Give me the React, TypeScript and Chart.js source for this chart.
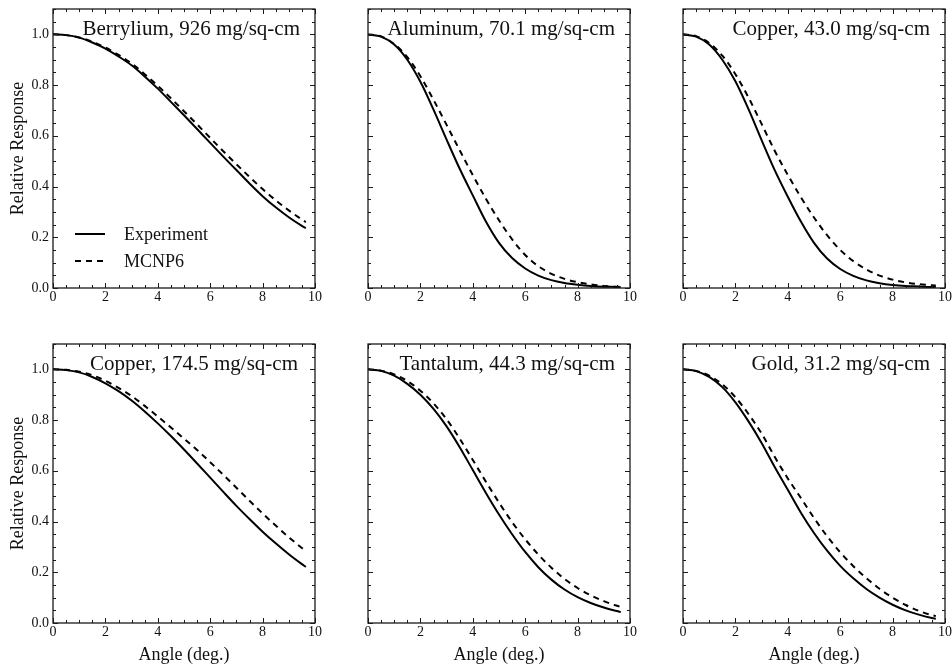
import React, { useEffect, useRef } from 'react';
import { Chart, registerables } from 'chart.js';

Chart.register(...registerables);

const FONT = '"Liberation Serif", "DejaVu Serif", serif';

// Angle (deg.) sample points
const ANGLES = [0, 0.5, 1, 1.5, 2, 2.5, 3, 3.5, 4, 4.5, 5, 5.5, 6, 6.5, 7, 7.5, 8, 8.5, 9, 9.5, 9.65];
const X_TICKS = [0, 2, 4, 6, 8, 10];
const Y_TICKS = [0, 0.2, 0.4, 0.6, 0.8, 1.0];
const SERIES_NAMES = ['Experiment', 'MCNP6'];
const PANEL_TITLES = [
  'Berrylium, 926 mg/sq-cm',
  'Aluminum, 70.1 mg/sq-cm',
  'Copper, 43.0 mg/sq-cm',
  'Copper, 174.5 mg/sq-cm',
  'Tantalum, 44.3 mg/sq-cm',
  'Gold, 31.2 mg/sq-cm',
];

const berylliumExp = [1.0, 0.997, 0.987, 0.968, 0.944, 0.913, 0.878, 0.834, 0.786, 0.734, 0.681, 0.627, 0.572, 0.518, 0.465, 0.412, 0.362, 0.318, 0.279, 0.245, 0.236];
const berylliumMcnp = [1.0, 0.997, 0.988, 0.971, 0.948, 0.919, 0.885, 0.843, 0.797, 0.748, 0.697, 0.645, 0.592, 0.539, 0.488, 0.438, 0.39, 0.346, 0.306, 0.27, 0.26];

const aluminumExp = [1.0, 0.991, 0.96, 0.9, 0.813, 0.703, 0.585, 0.47, 0.365, 0.262, 0.178, 0.118, 0.077, 0.049, 0.031, 0.02, 0.013, 0.008, 0.005, 0.004, 0.003];
const aluminumMcnp = [1.0, 0.992, 0.962, 0.91, 0.835, 0.742, 0.643, 0.543, 0.445, 0.352, 0.267, 0.192, 0.13, 0.086, 0.056, 0.036, 0.023, 0.014, 0.008, 0.005, 0.005];

const copper43Exp = [1.0, 0.991, 0.96, 0.9, 0.815, 0.705, 0.583, 0.465, 0.36, 0.262, 0.178, 0.116, 0.075, 0.048, 0.03, 0.019, 0.012, 0.008, 0.006, 0.004, 0.004];
const copper43Mcnp = [1.0, 0.993, 0.966, 0.916, 0.843, 0.751, 0.647, 0.541, 0.446, 0.358, 0.278, 0.208, 0.15, 0.106, 0.073, 0.049, 0.033, 0.022, 0.015, 0.011, 0.01];

const copper174Exp = [1.0, 0.997, 0.988, 0.97, 0.945, 0.914, 0.877, 0.834, 0.787, 0.737, 0.684, 0.629, 0.573, 0.517, 0.462, 0.41, 0.36, 0.314, 0.271, 0.232, 0.221];
const copper174Mcnp = [1.0, 0.998, 0.991, 0.977, 0.955, 0.927, 0.895, 0.856, 0.814, 0.771, 0.727, 0.682, 0.634, 0.584, 0.533, 0.482, 0.432, 0.384, 0.338, 0.296, 0.284];

const tantalumExp = [1.0, 0.994, 0.975, 0.943, 0.9, 0.844, 0.775, 0.693, 0.603, 0.513, 0.428, 0.35, 0.28, 0.22, 0.171, 0.132, 0.102, 0.079, 0.061, 0.047, 0.043];
const tantalumMcnp = [1.0, 0.995, 0.98, 0.954, 0.916, 0.866, 0.803, 0.727, 0.643, 0.557, 0.475, 0.398, 0.33, 0.27, 0.218, 0.174, 0.138, 0.109, 0.086, 0.068, 0.063];

const goldExp = [1.0, 0.993, 0.97, 0.93, 0.87, 0.795, 0.71, 0.615, 0.525, 0.435, 0.355, 0.285, 0.225, 0.176, 0.134, 0.1, 0.072, 0.05, 0.033, 0.02, 0.017];
const goldMcnp = [1.0, 0.994, 0.975, 0.941, 0.89, 0.824, 0.747, 0.655, 0.57, 0.493, 0.414, 0.342, 0.279, 0.224, 0.177, 0.135, 0.1, 0.071, 0.048, 0.031, 0.027];

const PANEL_SERIES = [
  [berylliumExp, berylliumMcnp],
  [aluminumExp, aluminumMcnp],
  [copper43Exp, copper43Mcnp],
  [copper174Exp, copper174Mcnp],
  [tantalumExp, tantalumMcnp],
  [goldExp, goldMcnp],
];

// layout
const PLOT_LEFTS = [53, 368, 683];
const PLOT_TOPS = [9, 344];
const PLOT_W = 262;
const PLOT_H = 279;
const Y_AXIS_W = 53;
const PAD_TOP = 20;
const PAD_RIGHT = 14;
const CANVAS_BOTTOMS = [318, 666];

const framePlugin = {
  id: 'frame',
  afterDraw(chart: any, _args: any, opts: any) {
    const { ctx, chartArea: a, scales } = chart;
    const xs = scales.x;
    const ys = scales.y;
    ctx.save();
    ctx.strokeStyle = '#1a1a1a';
    ctx.lineWidth = 1.3;
    ctx.setLineDash([]);
    ctx.strokeRect(a.left, a.top, a.right - a.left, a.bottom - a.top);
    ctx.lineWidth = 1;
    ctx.beginPath();
    for (let i = 0; i <= 20; i++) {
      const v = i * 0.5;
      const px = Math.round(xs.getPixelForValue(v)) + 0.5;
      const len = i % 4 === 0 ? 5 : 3;
      ctx.moveTo(px, a.bottom);
      ctx.lineTo(px, a.bottom - len);
      ctx.moveTo(px, a.top);
      ctx.lineTo(px, a.top + len);
    }
    for (let i = 0; i <= 22; i++) {
      const v = i * 0.05;
      const py = Math.round(ys.getPixelForValue(v)) + 0.5;
      const len = i % 4 === 0 ? 5 : 3;
      ctx.moveTo(a.left, py);
      ctx.lineTo(a.left + len, py);
      ctx.moveTo(a.right, py);
      ctx.lineTo(a.right - len, py);
    }
    ctx.stroke();

    // panel title
    ctx.fillStyle = '#111';
    ctx.font = `21px ${FONT}`;
    ctx.textAlign = 'right';
    ctx.textBaseline = 'alphabetic';
    ctx.fillText(opts.title, a.right - opts.titleInset, a.top + 26);

    // legend
    if (opts.legend) {
      chart.data.datasets.forEach((ds: any, i: number) => {
        const y = a.top + 225 + i * 27;
        ctx.strokeStyle = ds.borderColor;
        ctx.lineWidth = ds.borderWidth;
        ctx.setLineDash(ds.borderDash || []);
        ctx.beginPath();
        ctx.moveTo(a.left + 22, y);
        ctx.lineTo(a.left + 52, y);
        ctx.stroke();
        ctx.setLineDash([]);
        ctx.font = `18px ${FONT}`;
        ctx.textAlign = 'left';
        ctx.textBaseline = 'middle';
        ctx.fillStyle = '#111';
        ctx.fillText(ds.label, a.left + 71, y + 1);
      });
    }
    ctx.restore();
  },
};

function Panel({ index }: { index: number }) {
  const ref = useRef<HTMLCanvasElement>(null);
  const col = index % 3;
  const row = Math.floor(index / 3);
  const width = Y_AXIS_W + PLOT_W + PAD_RIGHT;
  const left = PLOT_LEFTS[col] - Y_AXIS_W;
  const top = PLOT_TOPS[row] - PAD_TOP;
  const height = CANVAS_BOTTOMS[row] - top;

  useEffect(() => {
    if (!ref.current) return;
    const [exp, mcnp] = PANEL_SERIES[index];
    const xH = height - PAD_TOP - PLOT_H;
    const chart = new Chart(ref.current, {
      type: 'line',
      data: {
        datasets: [
          {
            label: SERIES_NAMES[0],
            data: ANGLES.map((x, i) => ({ x, y: exp[i] })),
            borderColor: '#000',
            borderWidth: 2,
            pointRadius: 0,
            cubicInterpolationMode: 'monotone',
            fill: false,
          },
          {
            label: SERIES_NAMES[1],
            data: ANGLES.map((x, i) => ({ x, y: mcnp[i] })),
            borderColor: '#000',
            borderWidth: 2,
            borderDash: [6, 5],
            pointRadius: 0,
            cubicInterpolationMode: 'monotone',
            fill: false,
          },
        ],
      },
      options: {
        responsive: false,
        animation: false,
        events: [],
        layout: { padding: { left: 0, top: PAD_TOP, right: PAD_RIGHT, bottom: 0 } },
        plugins: {
          legend: { display: false },
          tooltip: { enabled: false },
          frame: { title: PANEL_TITLES[index], legend: index === 0, titleInset: index === 3 ? 17 : 15 },
        } as any,
        scales: {
          x: {
            type: 'linear',
            min: 0,
            max: 10,
            grid: { display: false, drawTicks: false },
            border: { display: false },
            afterBuildTicks: (s: any) => {
              s.ticks = X_TICKS.map((v) => ({ value: v }));
            },
            ticks: {
              padding: 1,
              color: '#111',
              font: { size: 14, family: FONT },
              maxRotation: 0,
              autoSkip: false,
              callback: (v: any) => String(v),
            },
            title: {
              display: row === 1,
              text: 'Angle (deg.)',
              color: '#111',
              font: { size: 18, family: FONT },
              padding: { top: 0, bottom: 0 },
            },
            afterFit: (s: any) => {
              s.height = xH;
            },
          },
          y: {
            type: 'linear',
            min: 0,
            max: 1.1,
            grid: { display: false, drawTicks: false },
            border: { display: false },
            afterBuildTicks: (s: any) => {
              s.ticks = Y_TICKS.map((v) => ({ value: v }));
            },
            ticks: {
              display: col === 0,
              padding: 4,
              color: '#111',
              font: { size: 14, family: FONT },
              callback: (v: any) => Number(v).toFixed(1),
            },
            title: {
              display: col === 0,
              text: 'Relative Response',
              color: '#111',
              font: { size: 18, family: FONT },
              padding: { top: 7, bottom: 0 },
            },
            afterFit: (s: any) => {
              s.width = Y_AXIS_W;
            },
          },
        },
      } as any,
      plugins: [framePlugin],
    });
    return () => chart.destroy();
  }, [index, height]);

  return (
    <canvas
      ref={ref}
      width={width}
      height={height}
      style={{ position: 'absolute', left, top, width, height }}
    />
  );
}

export default function App() {
  return (
    <div style={{ position: 'absolute', left: 0, top: 0, width: 952, height: 666, background: '#fff', overflow: 'hidden' }}>
      {[0, 1, 2, 3, 4, 5].map((i) => (
        <Panel key={i} index={i} />
      ))}
    </div>
  );
}
